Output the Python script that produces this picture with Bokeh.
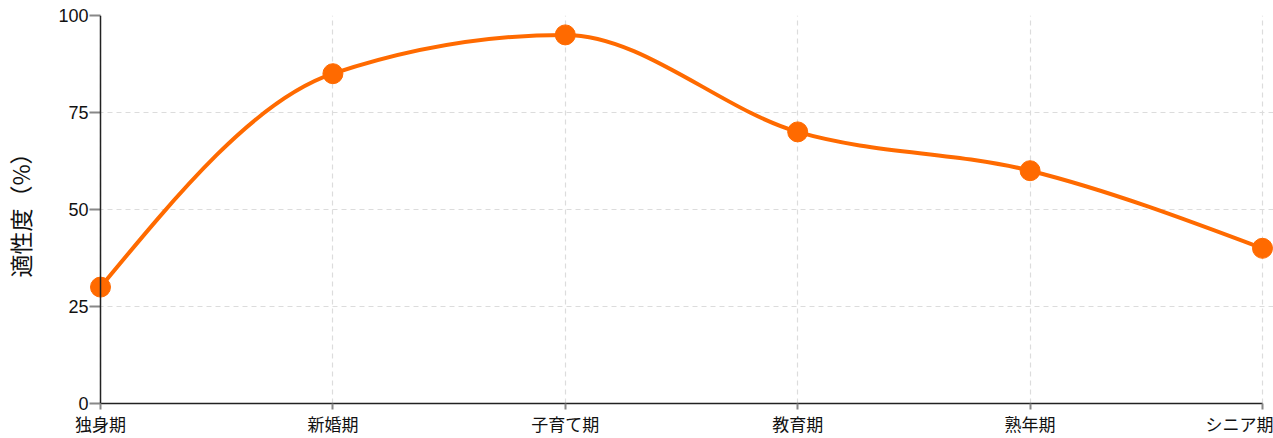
from bokeh.plotting import figure
from bokeh.models import FixedTicker, Range1d, Span
from bokeh.embed import file_html
from bokeh.resources import INLINE

categories = ["独身期", "新婚期", "子育て期", "教育期", "熟年期", "シニア期"]
values = [30, 85, 95, 70, 60, 40]
y_ticks = [0, 25, 50, 75, 100]

xs = list(range(len(categories)))

# monotone-X cubic (d3 curveMonotoneX style) tangents
def sign(v):
    return (v > 0) - (v < 0)

n = len(xs)
t = [0.0] * n
for i in range(1, n - 1):
    h0 = xs[i] - xs[i - 1]
    h1 = xs[i + 1] - xs[i]
    s0 = (values[i] - values[i - 1]) / h0
    s1 = (values[i + 1] - values[i]) / h1
    pp = (s0 * h1 + s1 * h0) / (h0 + h1)
    t[i] = (sign(s0) + sign(s1)) * min(abs(s0), abs(s1), 0.5 * abs(pp))
h = xs[1] - xs[0]
t[0] = (3 * (values[1] - values[0]) / h - t[1]) / 2
h = xs[-1] - xs[-2]
t[-1] = (3 * (values[-1] - values[-2]) / h - t[-2]) / 2

x0s, y0s, x1s, y1s, cx0, cy0, cx1, cy1 = [], [], [], [], [], [], [], []
for i in range(n - 1):
    dx = (xs[i + 1] - xs[i]) / 3
    x0s.append(xs[i]); y0s.append(values[i])
    x1s.append(xs[i + 1]); y1s.append(values[i + 1])
    cx0.append(xs[i] + dx); cy0.append(values[i] + dx * t[i])
    cx1.append(xs[i + 1] - dx); cy1.append(values[i + 1] - dx * t[i + 1])

# extra room so end markers are not clipped (px -> data units)
span_px = 1162.0
pad_px = 11.0
pad = pad_px * (xs[-1] - xs[0]) / span_px

p = figure(width=1273, height=438, output_backend="svg", toolbar_location=None,
           x_range=Range1d(xs[0] - pad, xs[-1] + pad), y_range=Range1d(0, 100),
           min_border_left=89, min_border_right=0, min_border_top=15, min_border_bottom=35)
p.outline_line_color = None
p.background_fill_color = "white"

for g in (p.xgrid, p.ygrid):
    g.grid_line_color = "#dcdcdc"
    g.grid_line_dash = "5 4"
    g.grid_line_width = 1.2
p.ygrid.bounds = (xs[0], xs[-1])

p.add_layout(Span(location=xs[0], dimension="height", line_color="#222222", line_width=1.5))

color = "#ff6a00"
p.bezier(x0=x0s, y0=y0s, x1=x1s, y1=y1s, cx0=cx0, cy0=cy0, cx1=cx1, cy1=cy1,
         line_color=color, line_width=4)
p.scatter(xs, values, size=20, color=color)

p.xaxis.ticker = FixedTicker(ticks=xs)
p.xaxis.major_label_overrides = {i: c for i, c in enumerate(categories)}
p.xaxis.bounds = (xs[0], xs[-1])
p.yaxis.ticker = FixedTicker(ticks=y_ticks)

for ax in (p.xaxis, p.yaxis):
    ax.axis_line_color = "#222222"
    ax.axis_line_width = 1.5
    ax.major_tick_line_color = "#888888"
    ax.major_tick_line_width = 2
    ax.major_tick_in = 0
    ax.major_tick_out = 6
    ax.minor_tick_line_color = None
    ax.major_label_text_color = "#111111"

p.yaxis.axis_line_color = None
p.yaxis.major_tick_in = 11
p.yaxis.major_tick_out = 0

p.xaxis.major_label_text_font = "Noto Sans CJK JP"
p.xaxis.major_label_text_font_size = "17px"
p.xaxis.major_label_standoff = 1
p.yaxis.major_label_text_font = "Liberation Sans"
p.yaxis.major_label_text_font_size = "18px"
p.yaxis.major_label_standoff = 1

p.yaxis.axis_label = "適性度（%）"
p.yaxis.axis_label_text_font = "Noto Sans CJK JP"
p.yaxis.axis_label_text_font_size = "23px"
p.yaxis.axis_label_text_font_style = "normal"
p.yaxis.axis_label_text_color = "#111111"
p.yaxis.axis_label_standoff = 18

open("out.html", "w").write(file_html(p, INLINE))
